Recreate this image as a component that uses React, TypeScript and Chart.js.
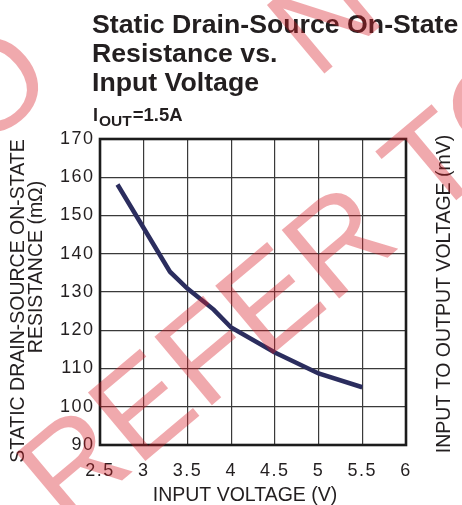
import React, { useEffect, useRef } from "react";
import { Chart, registerables } from "chart.js";

Chart.register(...registerables);

// ---- data ----
const inputVoltage = [2.7, 3.3, 3.5, 3.8, 4.0, 4.5, 5.0, 5.5];
const onResistance = [158.1, 135.3, 130.9, 125.4, 120.7, 114.2, 108.7, 105.1];
const xTickValues = [2.5, 3, 3.5, 4, 4.5, 5, 5.5, 6];
const yTickValues = [90, 100, 110, 120, 130, 140, 150, 160, 170];

// ---- text ----
const titleLines = ["Static Drain-Source On-State", "Resistance vs.", "Input Voltage"];
const conditionParts = ["I", "OUT", "=1.5A"];
const xAxisTitle = "INPUT VOLTAGE (V)";
const yAxisTitleLines = ["STATIC DRAIN-SOURCE ON-STATE", "RESISTANCE (mΩ)"];
const rightAxisTitle = "INPUT TO OUTPUT VOLTAGE (mV)";
const watermarkLines = ["REFER TO", "NOT", "DO"];

const FONT = '"Liberation Sans", Arial, Helvetica, sans-serif';
const INK = "#231f20";

const decorPlugin = {
  id: "decor",
  beforeDraw(chart: any) {
    const ctx = chart.ctx;
    ctx.save();
    ctx.fillStyle = "#ffffff";
    ctx.fillRect(0, 0, chart.width, chart.height);
    ctx.restore();
    ctx.letterSpacing = "1.5px";
  },
  beforeDatasetsDraw(chart: any) {
    const ctx = chart.ctx;
    const a = chart.chartArea;
    ctx.save();
    ctx.strokeStyle = "#1c1c1c";
    ctx.lineWidth = 2.6;
    ctx.strokeRect(a.left, a.top, a.right - a.left, a.bottom - a.top);
    ctx.restore();
  },
  afterDraw(chart: any) {
    const ctx = chart.ctx;
    ctx.letterSpacing = "0px";
    ctx.save();
    ctx.fillStyle = INK;
    ctx.textBaseline = "alphabetic";

    // Title
    ctx.textAlign = "left";
    ctx.font = `bold 26.7px ${FONT}`;
    titleLines.forEach((t, i) => ctx.fillText(t, 92, 33 + i * 29));

    // Condition I_OUT=1.5A
    let x = 93;
    ctx.font = `bold 18px ${FONT}`;
    ctx.fillText(conditionParts[0], x, 121);
    x += ctx.measureText(conditionParts[0]).width + 1;
    ctx.font = `bold 15.5px ${FONT}`;
    ctx.fillText(conditionParts[1], x, 125.5);
    x += ctx.measureText(conditionParts[1]).width + 1;
    ctx.font = `bold 18.5px ${FONT}`;
    ctx.fillText(conditionParts[2], x, 121);

    // X axis title
    ctx.font = `19.5px ${FONT}`;
    ctx.textAlign = "center";
    ctx.fillText(xAxisTitle, 245, 501);

    // Left axis title (two lines)
    ctx.save();
    ctx.translate(24, 301);
    ctx.rotate(-Math.PI / 2);
    ctx.fillText(yAxisTitleLines[0], 0, 0);
    ctx.restore();
    ctx.save();
    ctx.translate(42, 267);
    ctx.rotate(-Math.PI / 2);
    ctx.fillText(yAxisTitleLines[1], 0, 0);
    ctx.restore();

    // Right axis title
    ctx.save();
    ctx.translate(450, 294);
    ctx.rotate(-Math.PI / 2);
    ctx.fillText(rightAxisTitle, 0, 0);
    ctx.restore();
    ctx.restore();

    // Watermark
    ctx.save();
    ctx.translate(41, 499);
    ctx.rotate((-40 * Math.PI) / 180);
    ctx.font = `130px ${FONT}`;
    ctx.fillStyle = "rgba(215,30,40,0.38)";
    ctx.textAlign = "left";
    ctx.textBaseline = "alphabetic";
    ctx.fillText(watermarkLines[0], 0, 38);
    ctx.fillText(watermarkLines[1], 480, -144);
    ctx.fillText(watermarkLines[2], 84, -304);
    ctx.restore();
  },
};

export default function App() {
  const ref = useRef<HTMLCanvasElement>(null);
  useEffect(() => {
    const chart = new Chart(ref.current!, {
      type: "line",
      data: {
        datasets: [
          {
            data: inputVoltage.map((v, i) => ({ x: v, y: onResistance[i] })),
            borderColor: "#2b2d5e",
            borderWidth: 4.5,
            pointRadius: 0,
            tension: 0,
            fill: false,
          },
        ],
      },
      options: {
        animation: false,
        responsive: false,
        devicePixelRatio: 1,
        layout: { padding: { top: 139, right: 56, bottom: 0, left: 0 } },
        plugins: {
          legend: { display: false },
          title: { display: false },
          tooltip: { enabled: false },
        },
        scales: {
          x: {
            type: "linear",
            min: 2.5,
            max: 6,
            afterBuildTicks: (s: any) => {
              s.ticks = xTickValues.map((v) => ({ value: v }));
            },
            afterFit: (s: any) => {
              s.height = 60;
            },
            grid: { color: "#3a3a3a", lineWidth: 1.2, drawTicks: false },
            border: { display: false },
            ticks: {
              padding: 15,
              color: INK,
              font: { family: FONT, size: 18 },
              maxRotation: 0,
              autoSkip: false,
              callback: (v: any) => String(v),
            },
          },
          y: {
            type: "linear",
            min: 90,
            max: 170,
            afterBuildTicks: (s: any) => {
              s.ticks = yTickValues.map((v) => ({ value: v }));
            },
            afterFit: (s: any) => {
              s.width = 100;
            },
            grid: { color: "#3a3a3a", lineWidth: 1.2, drawTicks: false },
            border: { display: false },
            ticks: {
              padding: 5.5,
              color: INK,
              font: { family: FONT, size: 18 },
              autoSkip: false,
              callback: (v: any) => String(v),
            },
          },
        },
      },
      plugins: [decorPlugin],
    } as any);
    return () => chart.destroy();
  }, []);
  return (
    <div style={{ position: "fixed", left: 0, top: 0, width: 462, height: 505, background: "#fff" }}>
      <canvas ref={ref} width={462} height={505} style={{ display: "block", width: 462, height: 505 }} />
    </div>
  );
}
